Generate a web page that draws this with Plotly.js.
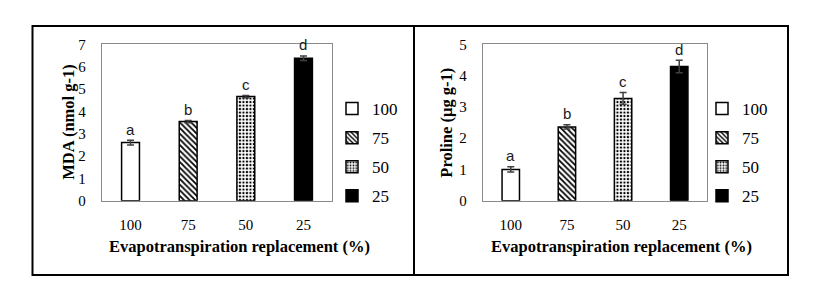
<!DOCTYPE html>
<html>
<head>
<meta charset="utf-8">
<script src="https://cdn.plot.ly/plotly-3.0.1.min.js"></script>
<style>html,body{margin:0;padding:0;background:#fff;}#chart{width:820px;height:286px;}</style>
</head>
<body>
<div id="chart"></div>
<script>
// ---- data ----
const categories = ['100', '75', '50', '25'];
const mdaValues = [2.6, 3.54, 4.66, 6.38];
const mdaErrors = [0.11, 0.05, 0.05, 0.1];
const prolineValues = [1.0, 2.36, 3.27, 4.29];
const prolineErrors = [0.085, 0.07, 0.19, 0.2];
const letters = ['a', 'b', 'c', 'd'];
const xTitle = 'Evapotranspiration replacement (%)';
const mdaTitle = 'MDA (nmol g-1)';
const prolineTitle = 'Proline (µg g-1)';

// ---- styles ----
const W = 820, H = 286;
const px = v => v / W;
const py = v => 1 - v / H;
const styles = [
  {color: '#ffffff', pattern: {shape: ''}},
  {color: '#ffffff', pattern: {shape: '\\', fgcolor: '#000', bgcolor: '#fff', size: 4, solidity: 0.45, fillmode: 'replace'}},
  {color: '#ffffff', pattern: {shape: '.', fgcolor: '#000', bgcolor: '#fff', size: 3.5, solidity: 0.35, fillmode: 'replace'}},
  {color: '#000000', pattern: {shape: ''}}
];
const serif = 'Liberation Serif';
const sans = 'Liberation Sans';
const idx = categories.map((c, i) => i);

function makeTraces(values, errors, xa, ya, legendName) {
  return categories.map((c, i) => ({
    type: 'bar',
    x: [idx[i]],
    y: [values[i]],
    name: '<span style="font-family:\'Liberation Serif\';font-size:17px;color:#000">' + c + '</span>',
    xaxis: xa,
    yaxis: ya,
    legend: legendName,
    legendgroup: legendName + c,
    width: 0.31,
    marker: {color: styles[i].color, pattern: styles[i].pattern, line: {color: '#000', width: 1.5}},
    error_y: {type: 'data', array: [errors[i]], visible: true, color: '#404040', thickness: 1.5, width: 3.5},
    hoverinfo: 'skip'
  }));
}

const traces = [].concat(
  makeTraces(mdaValues, mdaErrors, 'x', 'y', 'legend'),
  makeTraces(prolineValues, prolineErrors, 'x2', 'y2', 'legend2')
);

function letterAnns(values, errors, xr, yr) {
  return categories.map((c, i) => ({
    xref: xr, yref: yr, x: idx[i], y: values[i] + errors[i],
    text: letters[i], showarrow: false, yanchor: 'middle', yshift: 11,
    font: {family: sans, size: 15, color: '#1a1a1a'}
  }));
}

const axisCommon = {
  showgrid: false, zeroline: false, showline: true, mirror: true,
  linecolor: '#8a8a8a', linewidth: 1, ticks: '', fixedrange: true,
  tickfont: {family: serif, size: 15, color: '#000000'}
};
const xCommon = {type: 'linear', range: [-0.5, 3.5], tickmode: 'array', tickvals: idx, ticktext: categories, ticklabelstandoff: 10};

const legendCommon = {xanchor: 'left', yanchor: 'top', bgcolor: 'rgba(0,0,0,0)', font: {family: serif, size: 17, color: '#000000'}, itemwidth: 30, tracegroupgap: 4, traceorder: 'grouped'};

const layout = {
  width: W, height: H,
  font: {family: serif, size: 15, color: '#000000'},
  margin: {l: 0, r: 0, t: 0, b: 0, autoexpand: false},
  paper_bgcolor: '#fff', plot_bgcolor: '#fff',
  barmode: 'overlay',
  showlegend: true,
  xaxis: Object.assign({}, axisCommon, xCommon, {domain: [px(101.7), px(332.3)], anchor: 'y'}),
  yaxis: Object.assign({}, axisCommon, {domain: [py(200.7), py(44.3)], anchor: 'x', range: [0, 7], dtick: 1, ticklabelstandoff: 12}),
  xaxis2: Object.assign({}, axisCommon, xCommon, {domain: [px(482.7), px(707.3)], anchor: 'y2'}),
  yaxis2: Object.assign({}, axisCommon, {domain: [py(200.7), py(44.3)], anchor: 'x2', range: [0, 5], dtick: 1, ticklabelstandoff: 12}),
  legend: Object.assign({}, legendCommon, {x: px(332), y: py(91)}),
  legend2: Object.assign({}, legendCommon, {x: px(702), y: py(91)}),
  shapes: [
    {type: 'rect', xref: 'paper', yref: 'paper', x0: px(32.5), x1: px(788), y0: py(275), y1: py(26), line: {color: '#000', width: 2}},
    {type: 'line', xref: 'paper', yref: 'paper', x0: px(414), x1: px(414), y0: py(275), y1: py(26), line: {color: '#000', width: 2}}
  ],
  annotations: [].concat(
    letterAnns(mdaValues, mdaErrors, 'x', 'y'),
    letterAnns(prolineValues, prolineErrors, 'x2', 'y2'),
    [
      {xref: 'paper', yref: 'paper', x: px(240), y: py(246.7), text: '<b>' + xTitle + '</b>', showarrow: false, xanchor: 'center', yanchor: 'middle', font: {family: serif, size: 16.5, color: '#000'}},
      {xref: 'paper', yref: 'paper', x: px(621), y: py(246.7), text: '<b>' + xTitle + '</b>', showarrow: false, xanchor: 'center', yanchor: 'middle', font: {family: serif, size: 16.5, color: '#000'}},
      {xref: 'paper', yref: 'paper', x: px(68.3), y: py(122.4), text: '<b>' + mdaTitle + '</b>', textangle: -90, showarrow: false, xanchor: 'center', yanchor: 'middle', font: {family: serif, size: 16.5, color: '#000'}},
      {xref: 'paper', yref: 'paper', x: px(446.7), y: py(123), text: '<b>' + prolineTitle + '</b>', textangle: -90, showarrow: false, xanchor: 'center', yanchor: 'middle', font: {family: serif, size: 16.5, color: '#000'}}
    ]
  )
};

Plotly.newPlot('chart', traces, layout, {staticPlot: true, displayModeBar: false});
</script>
</body>
</html>
